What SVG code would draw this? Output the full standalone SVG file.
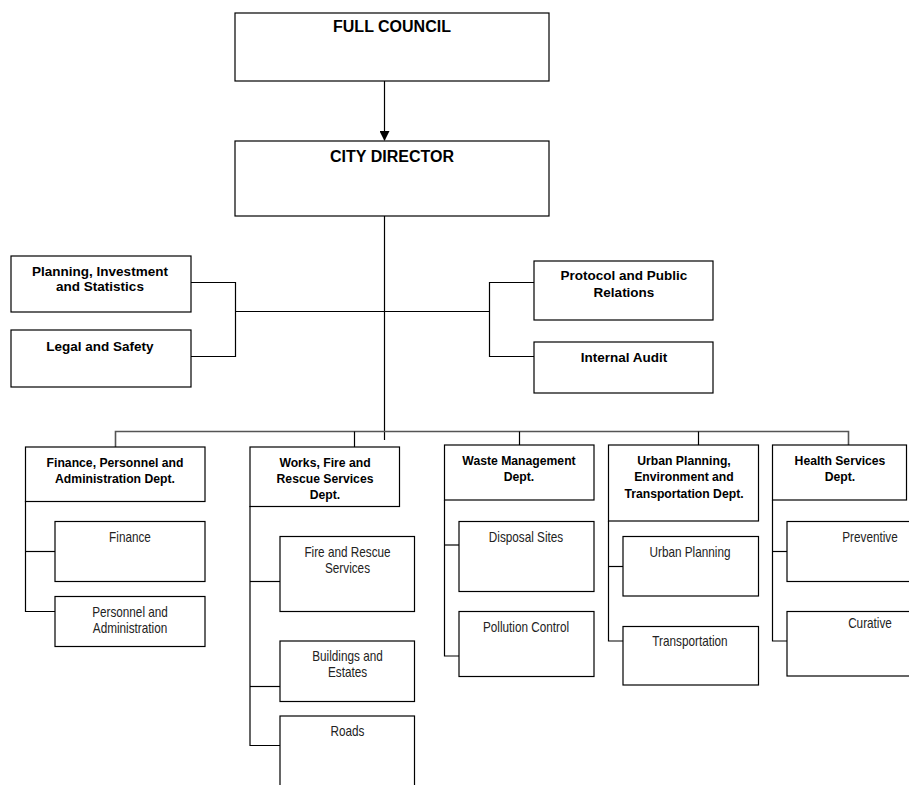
<svg xmlns="http://www.w3.org/2000/svg" width="909" height="785" viewBox="0 0 909 785">
  <style>
    .box { fill: #fff; stroke: #000; stroke-width: 1.2; }
    .wire { fill: none; stroke: #000; stroke-width: 1.2; }
    .bus { fill: none; stroke: #555; stroke-width: 1.6; }
    .t { font-family: "Liberation Sans", Arial, sans-serif; font-weight: bold; text-anchor: middle; fill: #000; }
    .top { font-size: 16px; }
    .side { font-size: 13.5px; }
    .dept { font-size: 12.2px; }
    /* unit labels: regular face, horizontally condensed via transform */
    .sub { font-family: "Liberation Sans", Arial, sans-serif; font-size: 14px; text-anchor: middle; fill: #222; }
  </style>
  <defs>
    <marker id="arrow" markerWidth="10" markerHeight="10" refX="9" refY="5" orient="auto" markerUnits="userSpaceOnUse">
      <path d="M0,0 L10,5 L0,10 z" fill="#000"/>
    </marker>
  </defs>
  <rect width="909" height="785" fill="#fff"/>

  <!-- connectors -->
  <g id="connectors">
    <line class="wire" x1="384.5" y1="81" x2="384.5" y2="140" marker-end="url(#arrow)"/>
    <line class="wire" x1="384.5" y1="216" x2="384.5" y2="440"/>
    <!-- staff offices, left -->
    <polyline class="wire" points="191,282.5 235.5,282.5 235.5,356.5 191,356.5"/>
    <line class="wire" x1="235.5" y1="311.5" x2="489.5" y2="311.5"/>
    <!-- staff offices, right -->
    <polyline class="wire" points="534,282.5 489.5,282.5 489.5,356.5 534,356.5"/>
    <!-- department bus -->
    <polyline class="bus" points="115.5,447 115.5,431.5 848.5,431.5 848.5,445"/>
    <line class="wire" x1="354.5" y1="431.5" x2="354.5" y2="447"/>
    <line class="wire" x1="519.5" y1="431.5" x2="519.5" y2="445"/>
    <line class="wire" x1="698.5" y1="431.5" x2="698.5" y2="445"/>
    <!-- finance units -->
    <polyline class="wire" points="25.5,501 25.5,611.5 55,611.5"/>
    <line class="wire" x1="25.5" y1="551.5" x2="55" y2="551.5"/>
    <!-- works units -->
    <polyline class="wire" points="250,506 250,745.5 280,745.5"/>
    <line class="wire" x1="250" y1="581.5" x2="280" y2="581.5"/>
    <line class="wire" x1="250" y1="686.5" x2="280" y2="686.5"/>
    <!-- waste units -->
    <polyline class="wire" points="444.5,500 444.5,656 459,656"/>
    <line class="wire" x1="444.5" y1="545" x2="459" y2="545"/>
    <!-- urban planning units -->
    <polyline class="wire" points="608.5,521 608.5,641 623,641"/>
    <line class="wire" x1="608.5" y1="566.5" x2="623" y2="566.5"/>
    <!-- health units -->
    <polyline class="wire" points="772.5,500 772.5,641 787,641"/>
    <line class="wire" x1="772.5" y1="551.5" x2="787" y2="551.5"/>
  </g>

  <g id="full-council">
    <rect class="box" x="235" y="13" width="314" height="68"/>
    <text class="t top" x="392" y="32">FULL COUNCIL</text>
  </g>
  <g id="city-director">
    <rect class="box" x="235" y="141" width="314" height="75"/>
    <text class="t top" x="392" y="162">CITY DIRECTOR</text>
  </g>

  <g id="planning-investment">
    <rect class="box" x="11" y="256" width="180" height="56"/>
    <text class="t side" x="100" y="275.5">Planning, Investment</text>
    <text class="t side" x="100" y="290.5">and Statistics</text>
  </g>
  <g id="legal-safety">
    <rect class="box" x="11" y="330" width="180" height="57"/>
    <text class="t side" x="100" y="351">Legal and Safety</text>
  </g>
  <g id="protocol">
    <rect class="box" x="534" y="261" width="179" height="59"/>
    <text class="t side" x="624" y="280">Protocol and Public</text>
    <text class="t side" x="624" y="296.5">Relations</text>
  </g>
  <g id="internal-audit">
    <rect class="box" x="534" y="342" width="179" height="51"/>
    <text class="t side" x="624" y="361.5">Internal Audit</text>
  </g>

  <!-- departments -->
  <g id="finance-dept">
    <rect class="box" x="25.5" y="447" width="179.5" height="54.5"/>
    <text class="t dept" x="115" y="466.5">Finance, Personnel and</text>
    <text class="t dept" x="115" y="483">Administration Dept.</text>
  </g>
  <g id="finance">
    <rect class="box" x="55" y="521.5" width="150" height="60"/>
    <text class="sub" transform="translate(130 541.5) scale(0.84 1)">Finance</text>
  </g>
  <g id="personnel">
    <rect class="box" x="55" y="596.5" width="150" height="50"/>
    <text class="sub" transform="translate(130 616.5) scale(0.84 1)">Personnel and</text>
    <text class="sub" transform="translate(130 632.5) scale(0.84 1)">Administration</text>
  </g>

  <g id="works-dept">
    <rect class="box" x="250" y="447" width="149.5" height="59.5"/>
    <text class="t dept" x="325" y="466.5">Works, Fire and</text>
    <text class="t dept" x="325" y="483">Rescue Services</text>
    <text class="t dept" x="325" y="498.5">Dept.</text>
  </g>
  <g id="fire-rescue">
    <rect class="box" x="280" y="536.5" width="134.5" height="75"/>
    <text class="sub" transform="translate(347.5 556.5) scale(0.84 1)">Fire and Rescue</text>
    <text class="sub" transform="translate(347.5 572.5) scale(0.84 1)">Services</text>
  </g>
  <g id="buildings">
    <rect class="box" x="280" y="641" width="134.5" height="60.5"/>
    <text class="sub" transform="translate(347.5 660.5) scale(0.84 1)">Buildings and</text>
    <text class="sub" transform="translate(347.5 677) scale(0.84 1)">Estates</text>
  </g>
  <g id="roads">
    <rect class="box" x="280" y="716" width="134.5" height="90"/>
    <text class="sub" transform="translate(347.5 736) scale(0.84 1)">Roads</text>
  </g>

  <g id="waste-dept">
    <rect class="box" x="444.5" y="445" width="149.5" height="55"/>
    <text class="t dept" x="519" y="465">Waste Management</text>
    <text class="t dept" x="519" y="481">Dept.</text>
  </g>
  <g id="disposal">
    <rect class="box" x="459" y="521.5" width="135" height="70"/>
    <text class="sub" transform="translate(526 541.5) scale(0.84 1)">Disposal Sites</text>
  </g>
  <g id="pollution">
    <rect class="box" x="459" y="611.5" width="135" height="65"/>
    <text class="sub" transform="translate(526 631.5) scale(0.84 1)">Pollution Control</text>
  </g>

  <g id="urban-dept">
    <rect class="box" x="608.5" y="445" width="150" height="76"/>
    <text class="t dept" x="684" y="465">Urban Planning,</text>
    <text class="t dept" x="684" y="481">Environment and</text>
    <text class="t dept" x="684" y="497.5">Transportation Dept.</text>
  </g>
  <g id="urban-planning">
    <rect class="box" x="623" y="536.5" width="135.5" height="59.5"/>
    <text class="sub" transform="translate(690 556.5) scale(0.84 1)">Urban Planning</text>
  </g>
  <g id="transportation">
    <rect class="box" x="623" y="626.5" width="135.5" height="58.5"/>
    <text class="sub" transform="translate(690 645.5) scale(0.84 1)">Transportation</text>
  </g>

  <g id="health-dept">
    <rect class="box" x="772.5" y="445" width="134" height="55"/>
    <text class="t dept" x="840" y="465">Health Services</text>
    <text class="t dept" x="840" y="481">Dept.</text>
  </g>
  <g id="preventive">
    <rect class="box" x="787" y="521.5" width="170" height="60"/>
    <text class="sub" transform="translate(870 541.5) scale(0.84 1)">Preventive</text>
  </g>
  <g id="curative">
    <rect class="box" x="787" y="611.5" width="170" height="64.5"/>
    <text class="sub" transform="translate(870 628) scale(0.84 1)">Curative</text>
  </g>
</svg>
